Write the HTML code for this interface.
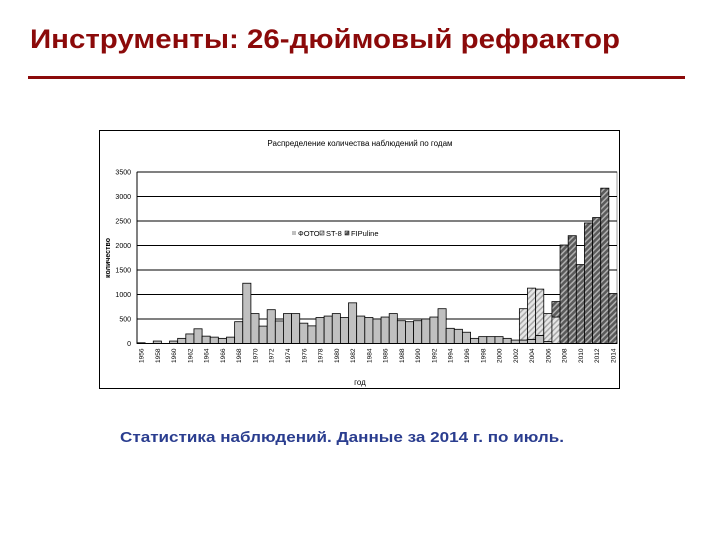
<!DOCTYPE html>
<html><head><meta charset="utf-8"><style>
html,body{margin:0;padding:0;background:#fff;width:720px;height:540px;overflow:hidden}
svg{display:block;font-family:"Liberation Sans","DejaVu Sans",sans-serif}
</style></head><body>
<svg id="s" width="720" height="540" viewBox="0 0 720 540">
<defs>
<pattern id="pLight" width="4" height="4" patternUnits="userSpaceOnUse" patternTransform="rotate(45)"><rect width="4" height="4" fill="#e6e6e6"/><rect width="1.5" height="4" fill="#a8a8a8"/></pattern>
<pattern id="pDark" width="4" height="4" patternUnits="userSpaceOnUse" patternTransform="rotate(45)"><rect width="4" height="4" fill="#5a5a5a"/><rect width="1.5" height="4" fill="#b0b0b0"/></pattern>
</defs>
<text x="30" y="48" font-size="27" font-weight="bold" fill="#8b0a0a" textLength="590" lengthAdjust="spacingAndGlyphs">Инструменты: 26-дюймовый рефрактор</text>
<rect x="28" y="76" width="657" height="3" fill="#8b0a0a"/>
<rect x="99.5" y="130.5" width="520" height="258" fill="#fff" stroke="#000" stroke-width="1"/>
<text x="360" y="146" font-size="8" text-anchor="middle" fill="#000">Распределение количества наблюдений по годам</text>
<g id="grid"></g>
<g id="bars"></g>
<g id="axes"></g>
<g>
<rect x="292" y="231" width="4" height="4" fill="#c0c0c0"/>
<text x="298" y="236" font-size="7.5">ФОТО</text>
<rect x="320" y="231" width="4" height="4" fill="url(#pLight)" stroke="#000" stroke-width="0.5"/>
<text x="326" y="236" font-size="7.5">ST-8</text>
<rect x="345" y="231" width="4" height="4" fill="url(#pDark)" stroke="#000" stroke-width="0.5"/>
<text x="351" y="236" font-size="7.5">FIPuline</text>
</g>
<text transform="translate(110,258) rotate(-90)" font-size="7" font-weight="bold" text-anchor="middle">количество</text>
<text x="360" y="385" font-size="8" text-anchor="middle">год</text>
<text x="120" y="442" font-size="14.5" font-weight="bold" fill="#2a3d8f" textLength="444" lengthAdjust="spacingAndGlyphs">Статистика наблюдений. Данные за 2014 г. по июль.</text>
</svg>
<script>
const years = [];
for (let y = 1956; y <= 2014; y++) years.push(y);
const foto = [15,0,50,0,50,105,195,300,150,130,105,130,445,1230,610,355,690,460,610,610,415,360,530,560,610,530,830,560,530,500,540,610,465,445,465,500,540,710,310,290,230,105,140,140,140,105,70,70,85,165,40,0,0,0,0,0,0,0,0];
const st8 = [0,0,0,0,0,0,0,0,0,0,0,0,0,0,0,0,0,0,0,0,0,0,0,0,0,0,0,0,0,0,0,0,0,0,0,0,0,0,0,0,0,0,0,0,0,0,0,640,1045,945,570,540,0,0,0,0,0,0,0];
const fip = [0,0,0,0,0,0,0,0,0,0,0,0,0,0,0,0,0,0,0,0,0,0,0,0,0,0,0,0,0,0,0,0,0,0,0,0,0,0,0,0,0,0,0,0,0,0,0,0,0,0,0,315,2010,2200,1610,2460,2570,3170,1020];
const yTicks = [0,500,1000,1500,2000,2500,3000,3500];

const NS = "http://www.w3.org/2000/svg";
const X0 = 137, X1 = 617, Y0 = 343.5, YTOP = 172, YMAX = 3500;
const bw = (X1 - X0) / years.length;
const xs = i => X0 + i * bw;
const ys = v => Y0 - v / YMAX * (Y0 - YTOP);
function mk(tag, attrs, parent) {
  const e = document.createElementNS(NS, tag);
  for (const k in attrs) e.setAttribute(k, attrs[k]);
  parent.appendChild(e);
  return e;
}
const grid = document.getElementById('grid');
const axes = document.getElementById('axes');
const bars = document.getElementById('bars');
mk('rect', {x: X0, y: YTOP, width: X1 - X0, height: Y0 - YTOP, fill: '#fff', stroke: '#888', 'stroke-width': 0.8}, grid);
yTicks.forEach(t => {
  const y = ys(t);
  if (t > 0) {
    const l = mk('line', {x1: X0, x2: X1, y1: y, y2: y, stroke: '#000', 'stroke-width': 1}, grid);
    
    
  }
  const tx = mk('text', {x: X0 - 6, y: y + 2.5, 'font-size': 7, 'text-anchor': 'end'}, axes);
  tx.textContent = t;
  
  
});
years.forEach((yr, i) => {
  const x = xs(i);
  let base = 0;
  [[foto[i], '#c0c0c0', 'foto'], [st8[i], 'url(#pLight)', 'st8'], [fip[i], 'url(#pDark)', 'fipuline']].forEach(([v, f, n]) => {
    if (v <= 0) return;
    const r = mk('rect', {x: x, y: ys(base + v), width: bw, height: ys(base) - ys(base + v), fill: f, stroke: '#000', 'stroke-width': 0.8}, bars);
    
    
    base += v;
  });
  if (i % 2 === 0) {
    const cx = x + bw / 2 + 2.5;
    const t = mk('text', {x: cx, y: Y0 + 5, 'font-size': 6.5, 'text-anchor': 'end', transform: `rotate(-90 ${cx} ${Y0 + 5})`}, axes);
    t.textContent = yr;
    
    
  }
});
const ax = mk('line', {x1: X0, x2: X0, y1: YTOP, y2: Y0, stroke: '#000', 'stroke-width': 1}, axes);


const bx = mk('line', {x1: X0, x2: X1, y1: Y0, y2: Y0, stroke: '#000', 'stroke-width': 1}, axes);


</script>
</body></html>
